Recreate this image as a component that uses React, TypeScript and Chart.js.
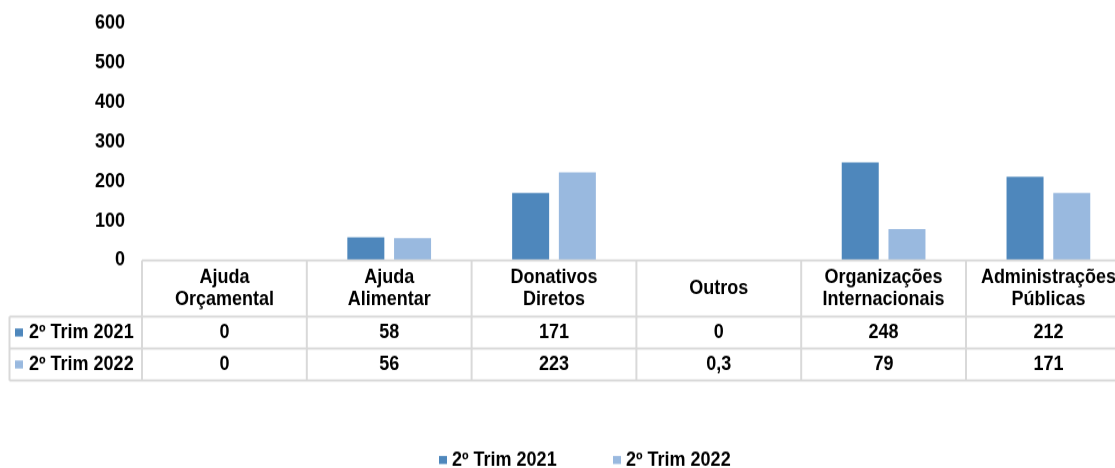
import React, { useEffect, useRef } from "react";
import { Chart, registerables } from "chart.js";

Chart.register(...registerables);

const categories: string[][] = [
  ["Ajuda", "Orçamental"],
  ["Ajuda", "Alimentar"],
  ["Donativos", "Diretos"],
  ["Outros"],
  ["Organizações", "Internacionais"],
  ["Administrações", "Públicas"],
];
const seriesNames = ["2º Trim 2021", "2º Trim 2022"];
const values2021 = [0, 58, 171, 0, 248, 212];
const values2022 = [0, 56, 223, 0.3, 79, 171];
const yTickValues = [0, 100, 200, 300, 400, 500, 600];
const seriesColors = ["#4E87BC", "#99B9DF"];

const FAMILY = "'Liberation Sans', Arial, sans-serif";
const FONT = `bold 18px ${FAMILY}`;
const GRID = "#d9d9d9";

// canvas is drawn at CANVAS_H and shown at 468px tall (vertically stretched text like the original)
const CANVAS_W = 1140;
const CANVAS_H = 425;
const K = 468 / CANVAS_H;
const Y = (v: number) => v / K;

const fmt = (v: number) => String(v).replace(".", ",");

const tablePlugin = {
  id: "dataTable",
  afterDraw(chart: any) {
    const { ctx, chartArea, scales } = chart;
    const xs = scales.x;
    const n = categories.length;
    const colW = (chartArea.right - chartArea.left) / n;
    const top = chartArea.bottom;
    const headerBottom = Y(316.5);
    const row1Bottom = Y(348.5);
    const row2Bottom = Y(380.5);
    const leftEdge = 9.5;
    const right = chartArea.right;

    ctx.save();
    ctx.strokeStyle = GRID;
    ctx.lineWidth = 2;
    const line = (x1: number, y1: number, x2: number, y2: number) => {
      ctx.beginPath();
      ctx.moveTo(x1, y1);
      ctx.lineTo(x2, y2);
      ctx.stroke();
    };
    line(chartArea.left, top, right, top);
    line(leftEdge, headerBottom, right, headerBottom);
    line(leftEdge, row1Bottom, right, row1Bottom);
    line(leftEdge, row2Bottom, right, row2Bottom);
    for (let i = 0; i <= n; i++) {
      const x = chartArea.left + i * colW;
      line(x, top, x, row2Bottom);
    }
    line(leftEdge, headerBottom, leftEdge, row2Bottom);

    ctx.fillStyle = "#000";
    ctx.font = FONT;
    ctx.textAlign = "center";
    ctx.textBaseline = "middle";
    const headerCy = (top + headerBottom) / 2;
    const lh = Y(22);
    categories.forEach((lines, i) => {
      const cx = xs.getPixelForValue(i);
      lines.forEach((l, j) => {
        ctx.fillText(l, cx, headerCy + (j - (lines.length - 1) / 2) * lh);
      });
    });

    const rows = [values2021, values2022];
    const rowCy = [(headerBottom + row1Bottom) / 2, (row1Bottom + row2Bottom) / 2];
    const mk = Y(8);
    rows.forEach((vals, r) => {
      ctx.textAlign = "center";
      vals.forEach((v, i) => {
        ctx.fillText(fmt(v), xs.getPixelForValue(i), rowCy[r] + 0.5);
      });
      ctx.fillStyle = seriesColors[r];
      ctx.fillRect(15, rowCy[r] - mk / 2, 8, mk);
      ctx.fillStyle = "#000";
      ctx.textAlign = "left";
      ctx.fillText(seriesNames[r], 29, rowCy[r] + 0.5);
    });

    // legend
    const legendY = Y(460);
    const legendX = [439, 613];
    seriesNames.forEach((name, r) => {
      ctx.fillStyle = seriesColors[r];
      ctx.fillRect(legendX[r], legendY - mk / 2, 8, mk);
      ctx.fillStyle = "#000";
      ctx.textAlign = "left";
      ctx.fillText(name, legendX[r] + 13, legendY + 0.5);
    });
    ctx.restore();
  },
};

export default function App() {
  const ref = useRef<HTMLCanvasElement | null>(null);
  useEffect(() => {
    if (!ref.current) return;
    const plotTop = Y(23.7);
    const plotBottom = Y(260.3);
    const chart = new Chart(ref.current, {
      type: "bar",
      data: {
        labels: categories.map((c) => c.join(" ")),
        datasets: [
          {
            label: seriesNames[0],
            data: values2021,
            backgroundColor: seriesColors[0],
            borderWidth: 0,
            categoryPercentage: 0.567,
            barPercentage: 0.792,
          },
          {
            label: seriesNames[1],
            data: values2022,
            backgroundColor: seriesColors[1],
            borderWidth: 0,
            categoryPercentage: 0.567,
            barPercentage: 0.792,
          },
        ],
      },
      options: {
        responsive: false,
        animation: false,
        devicePixelRatio: 1,
        layout: {
          padding: { top: plotTop, bottom: CANVAS_H - plotBottom, left: 0, right: 9.2 },
        },
        plugins: {
          legend: { display: false },
          tooltip: { enabled: false },
        },
        scales: {
          x: {
            display: false,
            grid: { display: false },
          },
          y: {
            min: 0,
            max: 600,
            afterBuildTicks: (scale: any) => {
              scale.ticks = yTickValues.map((v) => ({ value: v }));
            },
            afterFit: (scale: any) => {
              scale.width = 142;
              scale.paddingTop = 0;
              scale.paddingBottom = 0;
            },
            grid: { display: false, drawTicks: false },
            border: { display: false },
            ticks: {
              padding: 17,
              color: "#000",
              font: { family: FAMILY, size: 18, weight: "bold" },
            },
          },
        },
      },
      plugins: [tablePlugin],
    } as any);
    return () => chart.destroy();
  }, []);
  return (
    <div
      style={{
        position: "fixed",
        left: 0,
        top: 0,
        width: 1115,
        height: 468,
        overflow: "hidden",
        background: "#fff",
      }}
    >
      <canvas
        ref={ref}
        width={CANVAS_W}
        height={CANVAS_H}
        style={{ display: "block", width: CANVAS_W + "px", height: "468px" }}
      />
    </div>
  );
}
